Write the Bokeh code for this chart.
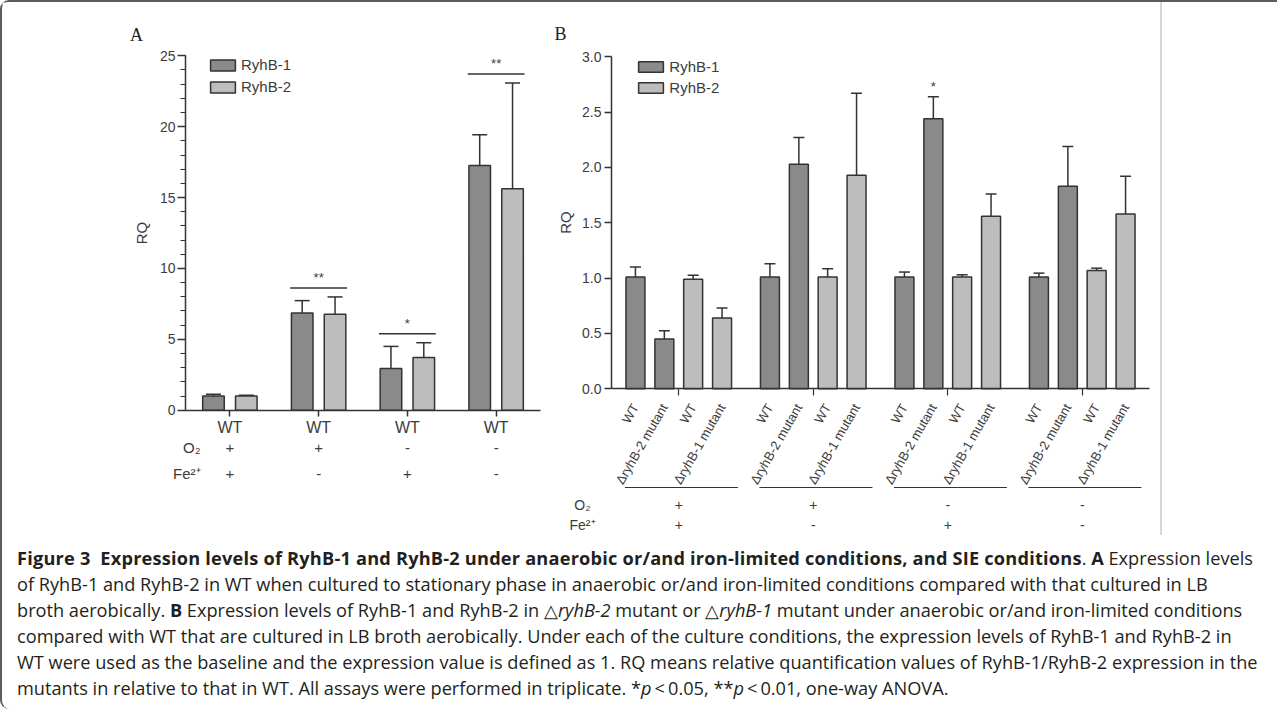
import math
from bokeh.plotting import figure
from bokeh.models import (Range1d, FixedTicker, PrintfTickFormatter, Whisker, TeeHead,
                          ColumnDataSource, Legend, LegendItem, LabelSet, LinearAxis,
                          Div, Spacer)
from bokeh.layouts import row, column
from bokeh.embed import file_html
from bokeh.resources import INLINE
from bokeh.core.properties import value

# ---------------- data: panel A ----------------
a_groups = ["WT", "WT", "WT", "WT"]
a_o2 = ["+", "+", "-", "-"]
a_fe = ["+", "-", "+", "-"]
a_ryhb1 = [1.00, 6.86, 2.95, 17.27]
a_ryhb1_err = [0.13, 0.87, 1.55, 2.16]
a_ryhb2 = [1.00, 6.76, 3.72, 15.62]
a_ryhb2_err = [0.05, 1.23, 1.04, 7.47]
a_sig = ["", "**", "*", "**"]
a_yticks = [0, 5, 10, 15, 20, 25]

# ---------------- data: panel B ----------------
b_bar_labels = ["WT", "\u0394ryhB-2 mutant", "WT", "\u0394ryhB-1 mutant"]
b_o2 = ["+", "+", "-", "-"]
b_fe = ["+", "-", "+", "-"]
b_wt_ryhb1 = [1.01, 1.01, 1.01, 1.01]
b_wt_ryhb1_err = [0.09, 0.12, 0.045, 0.035]
b_mut2_ryhb1 = [0.45, 2.03, 2.44, 1.83]
b_mut2_ryhb1_err = [0.075, 0.24, 0.20, 0.36]
b_wt_ryhb2 = [0.99, 1.01, 1.01, 1.07]
b_wt_ryhb2_err = [0.035, 0.075, 0.02, 0.02]
b_mut1_ryhb2 = [0.64, 1.93, 1.56, 1.58]
b_mut1_ryhb2_err = [0.09, 0.74, 0.20, 0.34]
b_sig = ["", "", "*", ""]
b_yticks = [0.0, 0.5, 1.0, 1.5, 2.0, 2.5, 3.0]

series_names = ["RyhB-1", "RyhB-2"]
cond_names = ["O\u2082", "Fe\u00b2\u207a"]

# ---------------- styles ----------------
FONT = "Liberation Sans"
DARK = "#8a8a8a"
LIGHT = "#bdbdbd"
EDGE = "#333333"
TXT = "#3c3c3c"
FIG_H = 533


def make_axes(p, xbounds, ybounds):
    xa = LinearAxis(fixed_location=0, bounds=xbounds)
    ya = LinearAxis(fixed_location=0, bounds=ybounds)
    for ax in (xa, ya):
        ax.axis_line_color = EDGE
        ax.axis_line_width = 1.5
        ax.major_tick_line_color = EDGE
        ax.major_tick_line_width = 1.5
        ax.minor_tick_line_color = EDGE
        ax.minor_tick_line_width = 1.2
        ax.major_tick_in = 0
        ax.minor_tick_in = 0
        ax.major_label_text_color = TXT
        ax.major_label_text_font = FONT
        ax.axis_label_text_font = FONT
        ax.axis_label_text_color = TXT
        ax.axis_label_text_font_style = "normal"
    p.add_layout(xa, "below")
    p.add_layout(ya, "left")
    p.grid.visible = False
    p.outline_line_color = None
    return xa, ya


def base_figure(w, x0px, xu, y0px, yu):
    # x0px/y0px: figure pixel where data 0 lies; xu/yu: pixels per data unit
    return figure(width=w, height=FIG_H, min_border=0,
                  x_range=Range1d(-x0px / xu, (w - x0px) / xu),
                  y_range=Range1d(-(FIG_H - y0px) / yu, y0px / yu),
                  x_axis_location=None, y_axis_location=None,
                  output_backend="svg", toolbar_location=None, tools="")


# ================= Panel A =================
A_W, A_X0, A_XU, A_Y0, A_YU = 550, 183.0, 88.75, 407.7, 14.176
pA = base_figure(A_W, A_X0, A_XU, A_Y0, A_YU)
def axp(px): return (px - A_X0) / A_XU
def ayp(py): return (A_Y0 - py) / A_YU
ay = 1 / A_YU

xa = [i + 0.5 for i in range(len(a_groups))]
OFF_A, BW_A = 0.185, 0.243
srcA1 = ColumnDataSource(dict(x=[x - OFF_A for x in xa], top=a_ryhb1,
                              up=[v + e for v, e in zip(a_ryhb1, a_ryhb1_err)]))
srcA2 = ColumnDataSource(dict(x=[x + OFF_A for x in xa], top=a_ryhb2,
                              up=[v + e for v, e in zip(a_ryhb2, a_ryhb2_err)]))
rA1 = pA.vbar(x="x", top="top", bottom=0, width=BW_A, source=srcA1,
              fill_color=DARK, line_color=EDGE, line_width=1.5)
rA2 = pA.vbar(x="x", top="top", bottom=0, width=BW_A, source=srcA2,
              fill_color=LIGHT, line_color=EDGE, line_width=1.5)
for s in (srcA1, srcA2):
    pA.add_layout(Whisker(source=s, base="x", lower="top", upper="up", dimension="height",
                          line_color=EDGE, line_width=1.5, lower_head=None,
                          upper_head=TeeHead(size=15, line_color=EDGE, line_width=1.5)))

sx0, sx1, sy, tx, ty, tt = [], [], [], [], [], []
for i, s in enumerate(a_sig):
    if s:
        y = max(a_ryhb1[i] + a_ryhb1_err[i], a_ryhb2[i] + a_ryhb2_err[i]) + 9 * ay
        sx0.append(xa[i] - 0.32); sx1.append(xa[i] + 0.32); sy.append(y)
        tx.append(xa[i]); ty.append(y + 3 * ay); tt.append(s)
pA.segment(x0=sx0, y0=sy, x1=sx1, y1=sy, line_color=EDGE, line_width=1.5)
pA.text(x=tx, y=ty, text=tt, text_align="center", text_baseline="bottom",
        text_font=value(FONT), text_font_size="13px", text_color=TXT)

LEG_ITEM_H, LEG_SP_A = 17, 5
legA = Legend(items=[LegendItem(label=series_names[0], renderers=[rA1]),
                     LegendItem(label=series_names[1], renderers=[rA2])],
              location=(205, FIG_H - (54.3 + 2 * LEG_ITEM_H + LEG_SP_A)),
              border_line_color=None, background_fill_alpha=0,
              padding=0, margin=0, spacing=LEG_SP_A, glyph_width=31, glyph_height=14,
              label_height=14, label_standoff=3, label_text_font=FONT,
              label_text_font_size="15px", label_text_color=TXT)
pA.add_layout(legA)

xaxA, yaxA = make_axes(pA, (0, 4), (0, 25))
yaxA.ticker = FixedTicker(ticks=a_yticks, minor_ticks=list(range(0, 26)))
yaxA.major_tick_out = 8
yaxA.minor_tick_out = 5
yaxA.major_label_text_font_size = "14px"
yaxA.major_label_standoff = 2
yaxA.axis_label = "RQ"
yaxA.axis_label_standoff = 7
yaxA.axis_label_text_font_size = "15px"
xaxA.ticker = FixedTicker(ticks=xa)
xaxA.major_label_overrides = {x: g for x, g in zip(xa, a_groups)}
xaxA.major_tick_out = 6
xaxA.minor_tick_line_color = None
xaxA.major_label_text_font_size = "16px"
xaxA.major_label_standoff = 3

condA = ColumnDataSource(dict(
    x=xa + xa + [axp(198)] * 2,
    y=[ayp(445)] * 4 + [ayp(471)] * 4 + [ayp(445), ayp(471)],
    t=a_o2 + a_fe + cond_names,
    align=["center"] * 8 + ["right"] * 2))
pA.add_layout(LabelSet(source=condA, x="x", y="y", text="t", text_align="align",
                       text_baseline="middle", text_font=value(FONT), text_font_size="15px",
                       text_color=TXT))
pA.text(x=[axp(134)], y=[ayp(32)], text=["A"], text_align="center", text_baseline="middle",
        text_font=value("Liberation Serif"), text_font_size="18px", text_color="#222222")

# ================= Panel B =================
B_W, B_X0, B_XU, B_Y0, B_YU = 608, 59.0, 134.5, 386.3, 110.67
pB = base_figure(B_W, B_X0, B_XU, B_Y0, B_YU)
def bxp(px): return (px - B_X0) / B_XU
def byp(py): return (B_Y0 - py) / B_YU
by = 1 / B_YU

OFF_B = [-0.322, -0.107, 0.107, 0.322]
BW_B = 0.141
b_series = [
    (b_wt_ryhb1, b_wt_ryhb1_err, DARK),
    (b_mut2_ryhb1, b_mut2_ryhb1_err, DARK),
    (b_wt_ryhb2, b_wt_ryhb2_err, LIGHT),
    (b_mut1_ryhb2, b_mut1_ryhb2_err, LIGHT),
]
b_renderers = []
for j, (vals, errs, col) in enumerate(b_series):
    src = ColumnDataSource(dict(x=[i + 0.5 + OFF_B[j] for i in range(4)], top=vals,
                                up=[v + e for v, e in zip(vals, errs)]))
    r = pB.vbar(x="x", top="top", bottom=0, width=BW_B, source=src,
                fill_color=col, line_color=EDGE, line_width=1.5)
    b_renderers.append(r)
    pB.add_layout(Whisker(source=src, base="x", lower="top", upper="up", dimension="height",
                          line_color=EDGE, line_width=1.5, lower_head=None,
                          upper_head=TeeHead(size=11, line_color=EDGE, line_width=1.5)))

stx, sty, stt = [], [], []
for i, s in enumerate(b_sig):
    if s:
        tops = [b_series[j][0][i] + b_series[j][1][i] for j in range(4)]
        jm = tops.index(max(tops))
        stx.append(i + 0.5 + OFF_B[jm]); sty.append(max(tops) + 3 * by); stt.append(s)
pB.text(x=stx, y=sty, text=stt, text_align="center", text_baseline="bottom",
        text_font=value(FONT), text_font_size="13px", text_color=TXT)

LEG_SP_B = 4
legB = Legend(items=[LegendItem(label=series_names[0], renderers=[b_renderers[0]]),
                     LegendItem(label=series_names[1], renderers=[b_renderers[2]])],
              location=(83.3, FIG_H - (55.7 + 2 * LEG_ITEM_H + LEG_SP_B)),
              border_line_color=None, background_fill_alpha=0,
              padding=0, margin=0, spacing=LEG_SP_B, glyph_width=31, glyph_height=13,
              label_height=13, label_standoff=3, label_text_font=FONT,
              label_text_font_size="15px", label_text_color=TXT)
pB.add_layout(legB)

xaxB, yaxB = make_axes(pB, (0, 4), (0, 3))
yaxB.ticker = FixedTicker(ticks=b_yticks)
yaxB.formatter = PrintfTickFormatter(format="%.1f")
yaxB.major_tick_out = 7
yaxB.minor_tick_line_color = None
yaxB.major_label_text_font_size = "14px"
yaxB.major_label_standoff = 3
yaxB.axis_label = "RQ"
yaxB.axis_label_standoff = 5
yaxB.axis_label_text_font_size = "15px"

xb_ticks, xb_labels = [], {}
for i in range(4):
    for j, off in enumerate(OFF_B):
        xv = i + 0.5 + off
        xb_ticks.append(xv)
        xb_labels[xv] = b_bar_labels[j]
xbg = [i + 0.5 for i in range(4)]
xaxB.ticker = FixedTicker(ticks=xb_ticks, minor_ticks=xbg)
xaxB.major_label_overrides = xb_labels
xaxB.major_label_orientation = math.pi / 3
xaxB.major_tick_line_color = None
xaxB.major_tick_out = 0
xaxB.minor_tick_out = 7
xaxB.major_label_text_font_size = "13px"
xaxB.major_label_standoff = 9

pB.segment(x0=[c - 0.40 for c in xbg], y0=[byp(485)] * 4,
           x1=[c + 0.44 for c in xbg], y1=[byp(485)] * 4, line_color=EDGE, line_width=1.2)
condB = ColumnDataSource(dict(
    x=xbg + xbg + [bxp(30)] * 2,
    y=[byp(502)] * 4 + [byp(522)] * 4 + [byp(502), byp(522)],
    t=b_o2 + b_fe + cond_names))
pB.add_layout(LabelSet(source=condB, x="x", y="y", text="t", text_align="center",
                       text_baseline="middle", text_font=value(FONT), text_font_size="14px",
                       text_color=TXT))
pB.text(x=[bxp(8)], y=[byp(31)], text=["B"], text_align="center", text_baseline="middle",
        text_font=value("Liberation Serif"), text_font_size="18px", text_color="#222222")

# ================= caption =================
cap_html = (
    '<div style="box-sizing:border-box; height:164px; overflow:hidden; padding:5px 0 0 10px; '
    'font-family:\'Open Sans\'; font-size:18.2px; line-height:26px; color:#231f20; '
    'white-space:nowrap;">'
    '<b style="letter-spacing:0.2px">Figure 3&nbsp; Expression levels of RyhB-1 and RyhB-2 under anaerobic or/and '
    'iron-limited conditions, and SIE conditions</b>. <b>A</b> Expression levels<br>'
    'of RyhB-1 and RyhB-2 in WT when cultured to stationary phase in anaerobic or/and '
    'iron-limited conditions compared with that cultured in LB<br>'
    'broth aerobically. <b>B</b> Expression levels of RyhB-1 and RyhB-2 in '
    '\u25b3<i>ryhB-2</i> mutant or \u25b3<i>ryhB-1</i> mutant under anaerobic or/and '
    'iron-limited conditions<br>'
    'compared with WT that are cultured in LB broth aerobically. Under each of the culture '
    'conditions, the expression levels of RyhB-1 and RyhB-2 in<br>'
    'WT were used as the baseline and the expression value is defined as 1. RQ means '
    'relative quantification values of RyhB-1/RyhB-2 expression in the<br>'
    'mutants in relative to that in WT. All assays were performed in triplicate. '
    '*<i>p</i>&thinsp;&lt;&thinsp;0.05, **<i>p</i>&thinsp;&lt;&thinsp;0.01, one-way ANOVA.'
    '</div>'
)
cap = Div(text=cap_html, width=1265, height=164)

gray_line = Spacer(width=105, height=FIG_H, styles={"border-left": "2px solid #d6d6d6"})
layout = column(row(pA, pB, gray_line), cap,
                styles={"border-top": "2px solid #5c5c5c", "border-left": "2px solid #5c5c5c",
                        "border-top-left-radius": "9px", "border-bottom-left-radius": "9px"})

open("out.html", "w").write(file_html(layout, INLINE))
